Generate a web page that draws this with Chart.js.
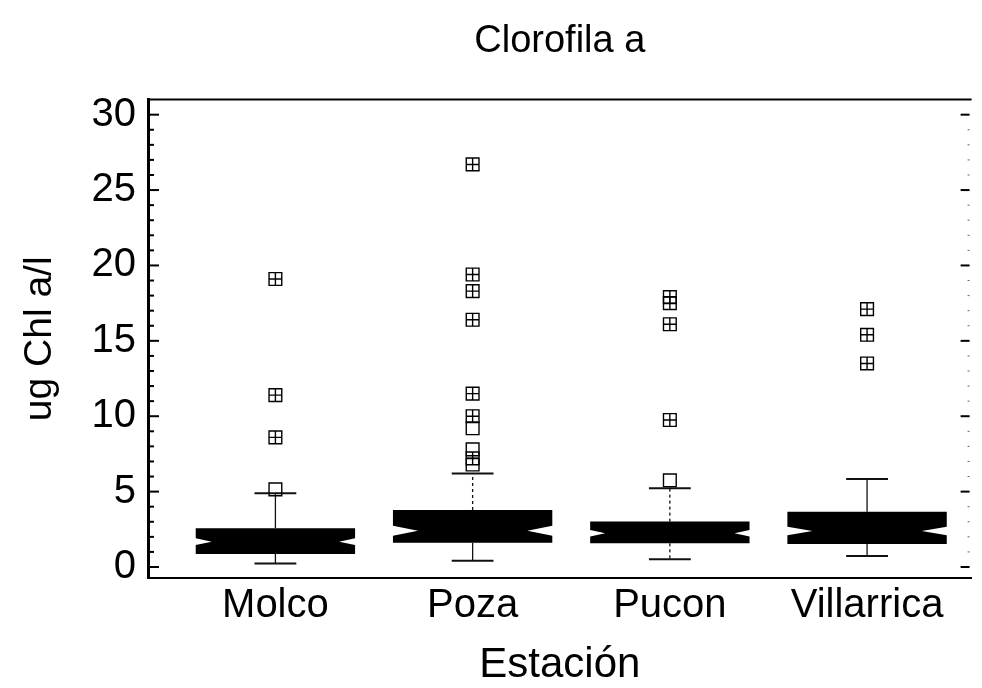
<!DOCTYPE html>
<html lang="es">
<head>
    <meta charset="UTF-8">
    <title>Clorofila a</title>
    <script src="https://cdn.jsdelivr.net/npm/chart.js"></script>
    <style>
        body { margin: 0; background: #fff; }
        #wrap { width: 982px; height: 688px; }
    </style>
</head>
<body>
    <div id="wrap"><canvas id="chl-chart" width="982" height="688"></canvas></div>
    <script>
        // datos
        const stations = ['Molco', 'Poza', 'Pucon', 'Villarrica'];
        const whiskerLow = [0.24, 0.42, 0.51, 0.73];
        const q1 = [0.86, 1.61, 1.57, 1.53];
        const median = [1.68, 2.41, 2.24, 2.39];
        const q3 = [2.57, 3.78, 3.01, 3.67];
        const whiskerHigh = [4.89, 6.2, 5.22, 5.84];
        const notchLow = [1.46, 2.08, 2.02, 2.11];
        const notchHigh = [1.90, 2.74, 2.46, 2.67];
        // puntos fuera (cuadro) y muy fuera (cuadro con cruz)
        const outsidePts = [[5.15], [9.2, 7.8, 6.8], [5.75], []];
        const farOutsidePts = [[19.1, 11.4, 8.6], [26.7, 19.4, 18.3, 16.4, 11.5, 10.0, 7.2], [17.9, 17.5, 16.1, 9.75], [17.1, 15.4, 13.5]];
        const yTicks = [0, 5, 10, 15, 20, 25, 30];

        // estilo
        const BOX_HALF = 0.404;
        const CAP_HALF = 0.106;
        const notchIndentPx = [16, 25, 15, 25];
        const whiskerDash = [[[], []], [[3, 3], []], [[3, 3], [3, 3]], [[], []]];
        const FONT = "'Liberation Sans', Arial, sans-serif";

        function toPoints(groups) {
            const pts = [];
            groups.forEach((vals, i) => vals.forEach(v => pts.push({ x: i, y: v })));
            return pts;
        }

        const boxPlugin = {
            id: 'notchedBoxes',
            beforeDatasetsDraw(chart) {
                const { ctx, scales: { x, y } } = chart;
                ctx.save();
                stations.forEach((name, i) => {
                    const cx = x.getPixelForValue(i);
                    const half = x.getPixelForValue(i + BOX_HALF) - cx;
                    const capHalf = x.getPixelForValue(i + CAP_HALF) - cx;
                    const L = cx - half, R = cx + half;
                    const yLo = y.getPixelForValue(whiskerLow[i]);
                    const yHi = y.getPixelForValue(whiskerHigh[i]);
                    const y1 = y.getPixelForValue(q1[i]);
                    const y3 = y.getPixelForValue(q3[i]);
                    const ym = y.getPixelForValue(median[i]);
                    const nLo = y.getPixelForValue(notchLow[i]);
                    const nHi = y.getPixelForValue(notchHigh[i]);
                    const ind = notchIndentPx[i];

                    // bigotes
                    ctx.strokeStyle = '#111';
                    ctx.lineWidth = 1.3;
                    ctx.setLineDash(whiskerDash[i][0]);
                    ctx.beginPath(); ctx.moveTo(cx, y3); ctx.lineTo(cx, yHi); ctx.stroke();
                    ctx.setLineDash(whiskerDash[i][1]);
                    ctx.beginPath(); ctx.moveTo(cx, y1); ctx.lineTo(cx, yLo); ctx.stroke();
                    ctx.setLineDash([]);
                    ctx.lineWidth = 2;
                    ctx.beginPath();
                    ctx.moveTo(cx - capHalf, yHi); ctx.lineTo(cx + capHalf, yHi);
                    ctx.moveTo(cx - capHalf, yLo); ctx.lineTo(cx + capHalf, yLo);
                    ctx.stroke();

                    // caja con muesca
                    ctx.fillStyle = '#000';
                    ctx.beginPath();
                    ctx.moveTo(L, y3);
                    ctx.lineTo(R, y3);
                    ctx.lineTo(R, nHi);
                    ctx.lineTo(R - ind, ym);
                    ctx.lineTo(R, nLo);
                    ctx.lineTo(R, y1);
                    ctx.lineTo(L, y1);
                    ctx.lineTo(L, nLo);
                    ctx.lineTo(L + ind, ym);
                    ctx.lineTo(L, nHi);
                    ctx.closePath();
                    ctx.fill();
                });
                ctx.restore();
            }
        };

        const framePlugin = {
            id: 'frame',
            afterDatasetsDraw(chart) {
                const { ctx, chartArea: a, scales: { y } } = chart;
                ctx.save();
                ctx.strokeStyle = '#000';
                ctx.lineWidth = 2;
                ctx.beginPath();
                ctx.moveTo(a.left, a.top); ctx.lineTo(a.right, a.top);
                ctx.stroke();
                for (let v = 0; v <= 30; v++) {
                    const py = y.getPixelForValue(v);
                    const major = v % 5 === 0;
                    ctx.lineWidth = 2;
                    ctx.beginPath();
                    ctx.moveTo(a.left, py); ctx.lineTo(a.left + (major ? 11 : 6), py);
                    ctx.stroke();
                    ctx.lineWidth = major ? 2 : 1;
                    ctx.strokeStyle = major ? '#000' : '#666';
                    ctx.beginPath();
                    ctx.moveTo(a.right - 2, py); ctx.lineTo(a.right - (major ? 11 : 4), py);
                    ctx.stroke();
                    ctx.strokeStyle = '#000';
                }
                ctx.restore();
            }
        };

        const ctx = document.getElementById('chl-chart').getContext('2d');
        const chlChart = new Chart(ctx, {
            type: 'scatter',
            data: {
                datasets: [
                    {
                        label: 'fuera',
                        data: toPoints(outsidePts),
                        pointStyle: 'rect',
                        radius: 9,
                        borderWidth: 1.4,
                        borderColor: '#000',
                        backgroundColor: 'rgba(0,0,0,0)'
                    },
                    {
                        label: 'muy fuera',
                        data: toPoints(farOutsidePts),
                        pointStyle: 'rect',
                        radius: 9,
                        borderWidth: 1.4,
                        borderColor: '#000',
                        backgroundColor: 'rgba(0,0,0,0)'
                    },
                    {
                        label: 'muy fuera cruz',
                        data: toPoints(farOutsidePts),
                        pointStyle: 'cross',
                        radius: 6.4,
                        borderWidth: 1.4,
                        borderColor: '#000'
                    }
                ]
            },
            options: {
                responsive: false,
                animation: false,
                layout: { padding: { left: 0, right: 7, top: 0, bottom: 0 } },
                plugins: {
                    legend: { display: false },
                    tooltip: { enabled: false },
                    title: {
                        display: true,
                        text: 'Clorofila a',
                        fullSize: false,
                        color: '#000',
                        font: { family: FONT, size: 38, weight: 'normal', lineHeight: 1.2 },
                        padding: { top: 19, bottom: 35 }
                    }
                },
                scales: {
                    x: {
                        type: 'linear',
                        min: -0.646,
                        max: 3.53,
                        afterBuildTicks: s => { s.ticks = stations.map((n, i) => ({ value: i })); },
                        afterFit: s => { s.height = 110; },
                        grid: { display: false, drawTicks: false },
                        border: { display: true, color: '#000', width: 2 },
                        ticks: {
                            color: '#000',
                            padding: 4,
                            autoSkip: false,
                            maxRotation: 0,
                            font: { family: FONT, size: 40 },
                            callback: v => stations[v] ?? ''
                        },
                        title: {
                            display: true,
                            text: 'Estación',
                            color: '#000',
                            font: { family: FONT, size: 42, lineHeight: 1 },
                            padding: { top: 0, bottom: 2 }
                        }
                    },
                    y: {
                        min: -0.73,
                        max: 31.0,
                        afterBuildTicks: s => { s.ticks = yTicks.map(v => ({ value: v })); },
                        afterFit: s => { s.width = 148; },
                        grid: { display: false, drawTicks: false },
                        border: { display: true, color: '#000', width: 3 },
                        ticks: {
                            color: '#000',
                            padding: 12,
                            autoSkip: false,
                            font: { family: FONT, size: 40 },
                            callback: v => String(v)
                        },
                        title: {
                            display: true,
                            text: 'ug Chl a/l',
                            color: '#000',
                            font: { family: FONT, size: 39, lineHeight: 1.2 },
                            padding: { top: 17, bottom: 0 }
                        }
                    }
                }
            },
            plugins: [boxPlugin, framePlugin]
        });
    </script>
</body>
</html>
